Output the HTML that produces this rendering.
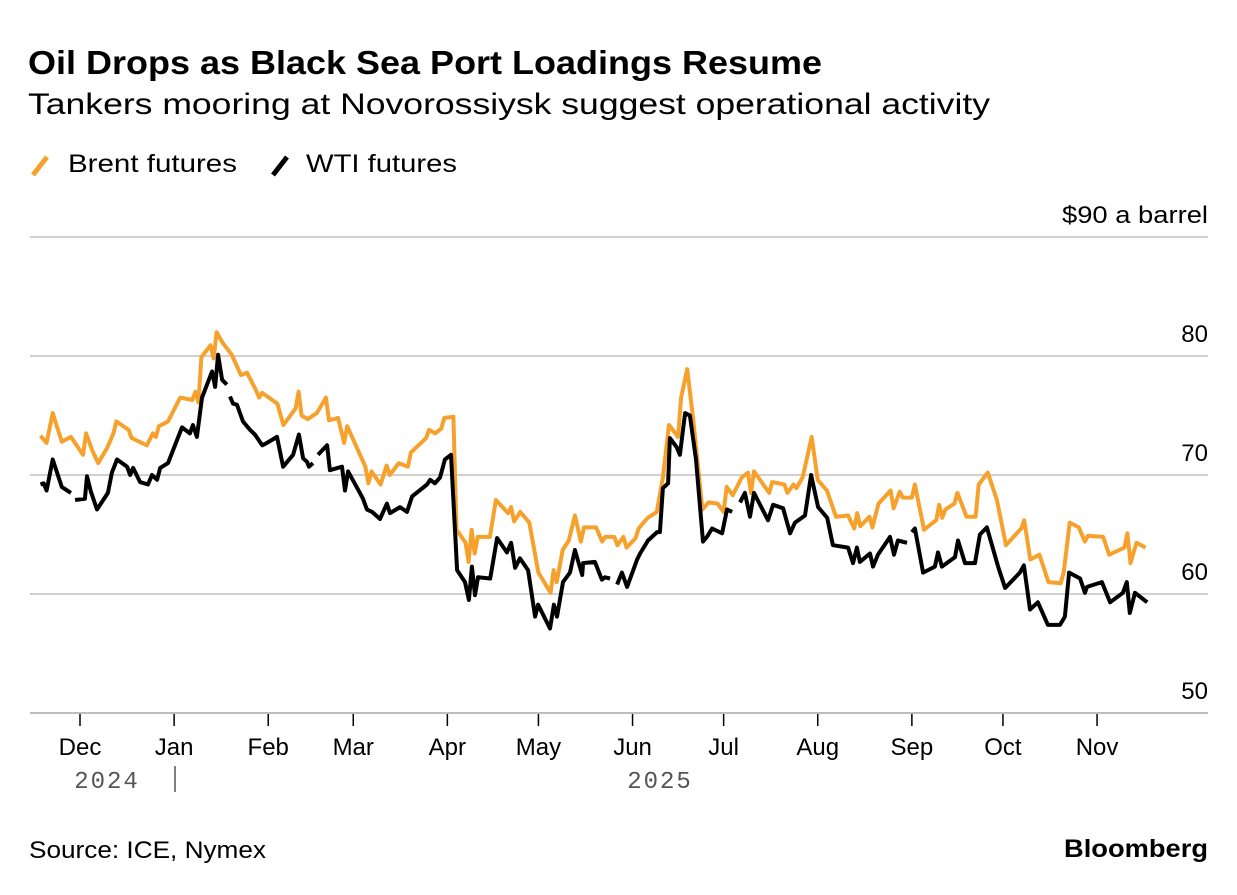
<!DOCTYPE html>
<html><head><meta charset="utf-8"><style>
body{margin:0;background:#fff;width:1237px;height:890px;overflow:hidden;font-family:"Liberation Sans",sans-serif;color:#000}
</style></head><body>
<svg width="1237" height="890" viewBox="0 0 1237 890" xmlns="http://www.w3.org/2000/svg">
<text x="28" y="74" font-size="33" font-weight="bold" textLength="794" lengthAdjust="spacingAndGlyphs" font-family="Liberation Sans, sans-serif">Oil Drops as Black Sea Port Loadings Resume</text>
<text x="28" y="114" font-size="30" textLength="962" lengthAdjust="spacingAndGlyphs" font-family="Liberation Sans, sans-serif">Tankers mooring at Novorossiysk suggest operational activity</text>
<g>
<g><line x1="33" y1="175" x2="47" y2="157" stroke="#f7a12d" stroke-width="5"/><text x="68" y="172" font-size="25" textLength="169" lengthAdjust="spacingAndGlyphs" font-family="Liberation Sans, sans-serif">Brent futures</text></g>
<g><line x1="273" y1="175" x2="287" y2="157" stroke="#000" stroke-width="5"/><text x="306" y="172" font-size="25" textLength="151" lengthAdjust="spacingAndGlyphs" font-family="Liberation Sans, sans-serif">WTI futures</text></g>
</g>
<g id="grid"></g>
<g id="xaxis"></g>
<g id="series"></g>
<text x="29" y="858" font-size="24" textLength="237" lengthAdjust="spacingAndGlyphs" font-family="Liberation Sans, sans-serif">Source: ICE, Nymex</text>
<text x="1064" y="857" font-size="25" font-weight="bold" textLength="144" lengthAdjust="spacingAndGlyphs" font-family="Liberation Sans, sans-serif">Bloomberg</text>
</svg>
<script>
// day offsets from 2024-12-01
const brentDays=[-13,-11,-9,-6,-3,1,2,4,6,9,11,12,16,17,22,24,25,26,29,33,37,38,39,40,43,44,45,47,50,53,55,58,59,60,65,67,71,72,73,75,78,81,82,85,87,88,91,94,95,96,99,101,102,105,108,109,114,115,117,119,120,123,124,127,128,129,130,131,135,137,141,142,143,145,148,151,155,156,157,159,161,163,165,166,170,172,173,176,177,179,180,183,184,187,190,192,194,197,198,200,202,205,207,210,212,213,215,218,220,221,222,227,228,232,233,235,236,238,241,243,246,249,253,255,256,257,260,261,263,267,268,270,271,274,275,278,282,283,284,285,288,289,292,295,296,299,302,305,310,311,313,316,319,323,324,326,329,331,332,337,339,344,345,346,348,351];
const brentValues=[73.3,72.7,75.2,72.8,73.2,71.7,73.5,72.1,71.0,72.3,73.5,74.5,73.8,73.1,72.5,73.5,73.2,74.1,74.5,76.5,76.3,77.0,76.1,79.9,80.9,79.8,82.0,81.1,80.1,78.4,78.6,77.1,76.5,76.9,76.0,74.2,75.6,77.0,75.0,74.7,75.2,76.5,74.6,74.8,72.7,74.1,72.4,70.7,69.3,70.3,69.2,70.8,70.0,71.0,70.7,71.9,73.1,73.8,73.5,73.9,74.8,74.9,65.4,64.3,62.7,65.4,63.4,64.8,64.8,67.9,66.8,67.3,66.1,66.9,66.0,61.8,60.1,62.0,61.0,63.7,64.5,66.6,64.4,65.6,65.6,64.4,64.8,64.8,64.1,64.8,63.9,64.7,65.5,66.4,66.9,69.8,74.2,73.2,76.5,78.9,74.6,67.1,67.7,67.6,66.9,69.0,68.3,69.8,70.2,68.5,70.3,68.5,69.4,69.2,68.5,69.2,68.9,69.8,73.2,69.6,68.7,66.5,66.6,65.5,66.8,65.7,66.5,65.6,67.6,68.7,67.2,68.6,68.1,68.1,69.2,65.4,66.2,67.5,66.4,67.1,67.6,68.5,66.5,66.5,69.2,70.2,67.9,64.1,65.5,66.2,62.9,63.3,61.0,60.9,61.8,66.0,65.6,64.4,64.9,64.8,63.3,63.9,65.1,62.6,64.3,63.9];
const wtiDays=[-13,-12,-11,-9,-6,-3,null,-1.6,1.6,2.3,3.6,5.6,9.2,10.5,12.2,15.5,16.5,17.5,19.8,22.4,23.7,25.4,26.4,29,33.6,36.2,37.2,38.5,40.2,43.5,44.5,45.5,46.8,48.4,null,49.4,50.4,51.7,53.7,56,57.6,60,61.6,64.9,66.9,70.2,72.1,73.5,74.8,75.4,76.7,null,78.4,81.4,82.3,86.3,87.3,88.3,92.2,93.2,94.5,96.2,98.8,101.1,102.1,105.4,107.7,109.4,114.3,115.3,116.9,118.6,120.2,122.2,124.2,126.8,128.1,129.1,130.1,131.1,135.1,137.4,140.6,142,143.3,144.9,147.6,149.9,150.9,154.8,156.1,157.1,159.1,161.4,163,165.4,165.7,169.6,171.9,172.9,174.6,null,176.9,178.5,180.2,183.5,184.5,187.1,190.1,191,192,193.7,194.3,196.6,197.6,199.3,200.9,202.9,205.2,206.5,208.2,211.5,213.1,214.8,null,217.4,219,220.7,222,226.6,228.3,231.6,233.9,235.5,238.8,240.8,243.1,246.1,248,253,254.6,255.9,256.9,260.2,261.2,262.8,266.8,268.1,269.4,272.4,null,274,275,277.7,281.6,282.6,283.9,288.2,289.2,291.5,294.8,296.4,298.7,302.4,304.7,309.6,310.9,312.9,315.5,318.8,322.8,324.4,325.8,329.4,331,331.7,336.6,339.3,343.5,344.8,345.8,347.5,351.5];
const wtiValues=[69.2,69.3,68.7,71.3,69.0,68.5,null,67.9,68.0,69.9,68.6,67.1,68.5,70.2,71.3,70.7,70.0,70.6,69.4,69.2,70.0,69.6,70.6,71.0,74.0,73.5,74.2,73.2,76.5,78.7,77.4,80.1,78.0,77.6,null,76.6,76.0,75.9,74.5,73.8,73.4,72.5,72.7,73.2,70.7,71.7,73.4,71.4,71.1,70.7,71.0,null,71.7,72.5,70.4,70.7,68.7,70.3,68.5,68.0,67.1,66.9,66.3,67.6,66.8,67.3,66.9,68.2,69.2,69.6,69.3,69.8,71.3,71.7,62.0,61.0,59.5,62.3,59.9,61.4,61.3,64.7,63.5,64.3,62.2,63.0,62.0,58.1,59.1,57.1,59.1,58.1,61.0,61.8,63.7,61.6,62.6,62.7,61.2,61.4,61.3,null,60.8,61.8,60.6,62.9,63.4,64.5,65.2,65.2,68.9,69.3,73.1,72.3,71.7,75.2,75.0,71.3,64.4,64.8,65.5,65.1,67.1,66.9,null,67.7,68.5,66.5,68.5,66.2,67.5,67.2,65.1,66.0,66.6,70.0,67.3,66.4,64.1,63.9,62.6,63.9,62.7,63.4,62.3,63.3,64.8,63.3,64.5,64.3,null,65.2,65.5,61.8,62.3,63.5,62.3,63.1,64.5,62.6,62.6,65.0,65.6,62.3,60.5,61.8,62.4,58.7,59.3,57.4,57.4,58.1,61.8,61.3,60.1,60.6,61.0,59.3,60.1,61.0,58.4,60.1,59.3];
const yTicks=[90,80,70,60,50];
const yTickLabels=["$90 a barrel","80","70","60","50"];
const monthDays=[0,31,62,90,121,151,182,212,243,274,304,335];
const monthLabels=["Dec","Jan","Feb","Mar","Apr","May","Jun","Jul","Aug","Sep","Oct","Nov"];

const NS="http://www.w3.org/2000/svg";
const X0=30,X1=1208;
function xs(d){return 80+d*3.036;}
function ys(v){return 237+(90-v)*11.9;}
function mk(tag,attrs,parent){const e=document.createElementNS(NS,tag);for(const k in attrs)e.setAttribute(k,attrs[k]);parent.appendChild(e);return e;}

const grid=document.getElementById('grid');
yTicks.forEach((v,i)=>{
  const l=mk('line',{x1:X0,x2:X1,y1:ys(v),y2:ys(v),stroke:v===50?'#bdbdbd':'#d0d0d0','stroke-width':2},grid);
  
  
  const attrs={x:X1,y:ys(v)-14,'text-anchor':'end','font-size':24,'font-family':'Liberation Sans, sans-serif'};
  if(i===0){attrs.textLength=146;attrs.lengthAdjust='spacingAndGlyphs';}
  const t=mk('text',attrs,grid);
  t.textContent=yTickLabels[i];
  
  
});
const xa=document.getElementById('xaxis');
monthDays.forEach((d,i)=>{
  const tk=mk('line',{x1:xs(d),x2:xs(d),y1:714,y2:726,stroke:'#000','stroke-width':1.5},xa);
  
  
  const t=mk('text',{x:xs(d),y:755,'text-anchor':'middle','font-size':24,'font-family':'Liberation Sans, sans-serif'},xa);
  t.textContent=monthLabels[i];
  
  
});
[["2024",107],["2025",660]].forEach(([s,x])=>{
  const t=mk('text',{x:x,y:788,'text-anchor':'middle','font-size':24,fill:'#555','letter-spacing':'2','font-family':'Liberation Mono, monospace'},xa);
  t.textContent=s;
  
  
});
const sep=mk('line',{x1:175,x2:175,y1:766,y2:792,stroke:'#555','stroke-width':1.5},xa);



function pathFor(days,vals){
  let d='',pen=false;
  for(let i=0;i<days.length;i++){
    if(days[i]===null||vals[i]===null){pen=false;continue;}
    d+=(pen?'L':'M')+xs(days[i]).toFixed(1)+','+ys(vals[i]).toFixed(1);
    pen=true;
  }
  return d;
}
const ser=document.getElementById('series');
const pb=mk('path',{d:pathFor(brentDays,brentValues),fill:'none',stroke:'#f7a12d','stroke-width':4,'stroke-linejoin':'round','stroke-linecap':'butt'},ser);


const pw=mk('path',{d:pathFor(wtiDays,wtiValues),fill:'none',stroke:'#000','stroke-width':4,'stroke-linejoin':'round','stroke-linecap':'butt'},ser);


</script>
</body></html>
